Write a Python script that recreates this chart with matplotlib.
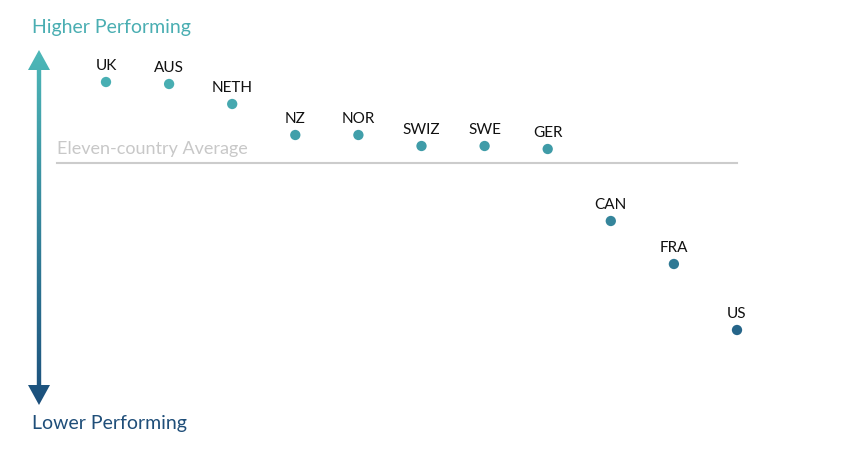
import numpy as np
import matplotlib
matplotlib.use("Agg")
import matplotlib.pyplot as plt
from matplotlib.colors import LinearSegmentedColormap
from matplotlib.patches import Polygon

countries = ["UK", "AUS", "NETH", "NZ", "NOR", "SWIZ", "SWE", "GER", "CAN", "FRA", "US"]
scores = [81, 79, 59, 28, 28, 17, 17, 14, -58, -101, -167]  # relative to eleven-country average (0)
average = 0

cmap = LinearSegmentedColormap.from_list("g", ["#4db8b8", "#1b4f7c"])
top, bot = 113, -242

fig = plt.figure(figsize=(8.48, 4.58), dpi=100)
ax = fig.add_axes([0, 0, 1, 1])
step = 63.1
ax.set_xlim(-106 / step, (848 - 106) / step)
ax.set_ylim(163 - 458, 163)
ax.axis("off")

xs = np.arange(len(countries))
ax.plot([(57 - 106) / step, xs[-1]], [average, average], color="#cccccc", lw=1.5, zorder=1)
ax.text((57 - 106) / step, average + 6, "Eleven-country Average", color="#c8c8c8",
        fontsize=13, family="Lato", va="bottom", ha="left")

for x, s, c in zip(xs, scores, countries):
    col = cmap((top - s) / (top - bot))
    ax.scatter([x], [s], s=55, color=col, zorder=3, edgecolors="none")
    ax.text(x, s + 9, c, ha="center", va="bottom", fontsize=11, family="Lato", color="#111111")

# gradient arrow
ax_x = (39 - 106) / step
hw = 2.2 / step
head_w = 11 / step
head_h = 20
grad = np.linspace(0, 1, 256).reshape(-1, 1)
im = ax.imshow(grad, cmap=cmap, aspect="auto", extent=[ax_x - head_w, ax_x + head_w, bot, top], zorder=2)
poly = Polygon([(ax_x, top), (ax_x + head_w, top - head_h), (ax_x + hw, top - head_h),
                (ax_x + hw, bot + head_h), (ax_x + head_w, bot + head_h), (ax_x, bot),
                (ax_x - head_w, bot + head_h), (ax_x - hw, bot + head_h),
                (ax_x - hw, top - head_h), (ax_x - head_w, top - head_h)],
               closed=True, transform=ax.transData, facecolor="none", edgecolor="none")
ax.add_patch(poly)
im.set_clip_path(poly)

fig.text(32 / 848, 1 - 28 / 458, "Higher Performing", color="#4aaeb2", fontsize=14,
         family="Lato", va="center", ha="left")
fig.text(32 / 848, 1 - 423 / 458, "Lower Performing", color="#1f4e79", fontsize=14,
         family="Lato", va="center", ha="left")

fig.savefig("out.png", dpi=100, facecolor="white")
